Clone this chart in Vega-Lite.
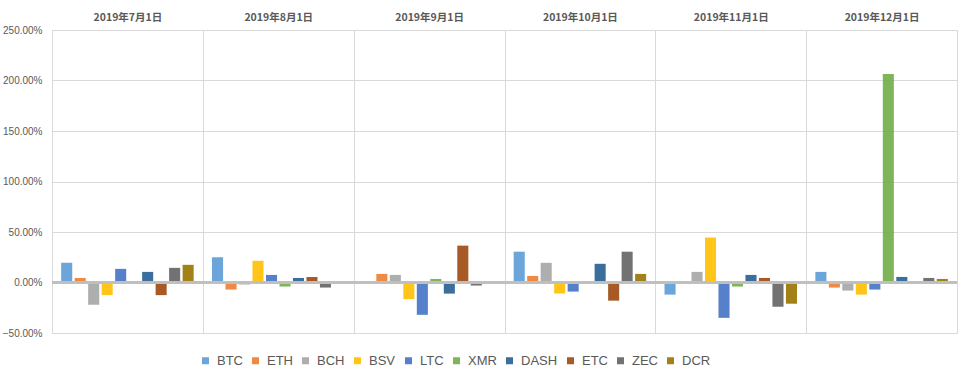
{
  "$schema": "https://vega.github.io/schema/vega-lite/v6.json",
  "width": 905,
  "height": 303,
  "autosize": {"type": "none"},
  "padding": {"left": 52, "top": 30, "right": 2, "bottom": 40},
  "background": "white",
  "config": {"view": {"stroke": "#d9d9d9", "strokeWidth": 1}},
  "data": {"values": [
    {"month": "2019年7月1日", "coin": "BTC", "value": 0.195},
    {"month": "2019年7月1日", "coin": "ETH", "value": 0.045},
    {"month": "2019年7月1日", "coin": "BCH", "value": -0.22},
    {"month": "2019年7月1日", "coin": "BSV", "value": -0.125},
    {"month": "2019年7月1日", "coin": "LTC", "value": 0.135},
    {"month": "2019年7月1日", "coin": "XMR", "value": 0.0},
    {"month": "2019年7月1日", "coin": "DASH", "value": 0.105},
    {"month": "2019年7月1日", "coin": "ETC", "value": -0.125},
    {"month": "2019年7月1日", "coin": "ZEC", "value": 0.145},
    {"month": "2019年7月1日", "coin": "DCR", "value": 0.175},
    {"month": "2019年8月1日", "coin": "BTC", "value": 0.25},
    {"month": "2019年8月1日", "coin": "ETH", "value": -0.07},
    {"month": "2019年8月1日", "coin": "BCH", "value": -0.02},
    {"month": "2019年8月1日", "coin": "BSV", "value": 0.215},
    {"month": "2019年8月1日", "coin": "LTC", "value": 0.075},
    {"month": "2019年8月1日", "coin": "XMR", "value": -0.04},
    {"month": "2019年8月1日", "coin": "DASH", "value": 0.045},
    {"month": "2019年8月1日", "coin": "ETC", "value": 0.055},
    {"month": "2019年8月1日", "coin": "ZEC", "value": -0.05},
    {"month": "2019年8月1日", "coin": "DCR", "value": 0.0},
    {"month": "2019年9月1日", "coin": "BTC", "value": 0.0},
    {"month": "2019年9月1日", "coin": "ETH", "value": 0.085},
    {"month": "2019年9月1日", "coin": "BCH", "value": 0.075},
    {"month": "2019年9月1日", "coin": "BSV", "value": -0.165},
    {"month": "2019年9月1日", "coin": "LTC", "value": -0.32},
    {"month": "2019年9月1日", "coin": "XMR", "value": 0.035},
    {"month": "2019年9月1日", "coin": "DASH", "value": -0.11},
    {"month": "2019年9月1日", "coin": "ETC", "value": 0.365},
    {"month": "2019年9月1日", "coin": "ZEC", "value": -0.03},
    {"month": "2019年9月1日", "coin": "DCR", "value": 0.0},
    {"month": "2019年10月1日", "coin": "BTC", "value": 0.305},
    {"month": "2019年10月1日", "coin": "ETH", "value": 0.065},
    {"month": "2019年10月1日", "coin": "BCH", "value": 0.195},
    {"month": "2019年10月1日", "coin": "BSV", "value": -0.11},
    {"month": "2019年10月1日", "coin": "LTC", "value": -0.09},
    {"month": "2019年10月1日", "coin": "XMR", "value": 0.0},
    {"month": "2019年10月1日", "coin": "DASH", "value": 0.185},
    {"month": "2019年10月1日", "coin": "ETC", "value": -0.18},
    {"month": "2019年10月1日", "coin": "ZEC", "value": 0.305},
    {"month": "2019年10月1日", "coin": "DCR", "value": 0.085},
    {"month": "2019年11月1日", "coin": "BTC", "value": -0.12},
    {"month": "2019年11月1日", "coin": "ETH", "value": 0.0},
    {"month": "2019年11月1日", "coin": "BCH", "value": 0.105},
    {"month": "2019年11月1日", "coin": "BSV", "value": 0.445},
    {"month": "2019年11月1日", "coin": "LTC", "value": -0.35},
    {"month": "2019年11月1日", "coin": "XMR", "value": -0.04},
    {"month": "2019年11月1日", "coin": "DASH", "value": 0.075},
    {"month": "2019年11月1日", "coin": "ETC", "value": 0.045},
    {"month": "2019年11月1日", "coin": "ZEC", "value": -0.24},
    {"month": "2019年11月1日", "coin": "DCR", "value": -0.21},
    {"month": "2019年12月1日", "coin": "BTC", "value": 0.105},
    {"month": "2019年12月1日", "coin": "ETH", "value": -0.05},
    {"month": "2019年12月1日", "coin": "BCH", "value": -0.08},
    {"month": "2019年12月1日", "coin": "BSV", "value": -0.12},
    {"month": "2019年12月1日", "coin": "LTC", "value": -0.07},
    {"month": "2019年12月1日", "coin": "XMR", "value": 2.065},
    {"month": "2019年12月1日", "coin": "DASH", "value": 0.055},
    {"month": "2019年12月1日", "coin": "ETC", "value": 0.015},
    {"month": "2019年12月1日", "coin": "ZEC", "value": 0.045},
    {"month": "2019年12月1日", "coin": "DCR", "value": 0.035}
  ]},
  "layer": [
    {
      "mark": {"type": "bar", "opacity": 0.9},
      "encoding": {
        "x": {
          "field": "month", "type": "nominal",
          "sort": ["2019年7月1日", "2019年8月1日", "2019年9月1日", "2019年10月1日", "2019年11月1日", "2019年12月1日"],
          "scale": {"paddingInner": 0, "paddingOuter": 0},
          "axis": {"orient": "top", "title": null, "tickBand": "extent", "grid": true, "gridColor": "#d9d9d9", "ticks": false, "domain": false, "labelAngle": 0, "labelFont": "Noto Sans CJK SC", "labelFontWeight": "bold", "labelFontSize": 10.5, "labelColor": "#595959", "labelPadding": 8}
        },
        "xOffset": {
          "field": "coin", "type": "nominal",
          "sort": ["BTC", "ETH", "BCH", "BSV", "LTC", "XMR", "DASH", "ETC", "ZEC", "DCR"],
          "scale": {"paddingInner": 0.18, "paddingOuter": 0.68}
        },
        "y": {
          "field": "value", "type": "quantitative",
          "scale": {"domain": [-0.5, 2.5], "nice": false},
          "axis": {"values": [-0.5, 0, 0.5, 1, 1.5, 2, 2.5], "format": ".2%", "title": null, "grid": true, "gridColor": "#d9d9d9", "ticks": false, "domain": false, "labelFont": "Liberation Sans", "labelFontSize": 10, "labelColor": "#595959", "labelPadding": 10}
        },
        "color": {
          "field": "coin", "type": "nominal",
          "scale": {
            "domain": ["BTC", "ETH", "BCH", "BSV", "LTC", "XMR", "DASH", "ETC", "ZEC", "DCR"],
            "range": ["#5B9BD5", "#ED7D31", "#A5A5A5", "#FFC000", "#4472C4", "#70AD47", "#255E91", "#9E480E", "#636363", "#997300"]
          },
          "legend": {"orient": "none", "legendX": 147, "legendY": 324, "direction": "horizontal", "columns": 10, "title": null, "symbolType": "square", "symbolSize": 49, "symbolStrokeWidth": 0, "labelFont": "Liberation Sans", "labelFontSize": 13, "labelColor": "#595959", "columnPadding": 6, "labelOffset": 5}
        }
      }
    },
    {
      "mark": {"type": "rule", "color": "#bfbfbf", "strokeWidth": 2},
      "encoding": {"y": {"datum": 0}}
    }
  ]
}
